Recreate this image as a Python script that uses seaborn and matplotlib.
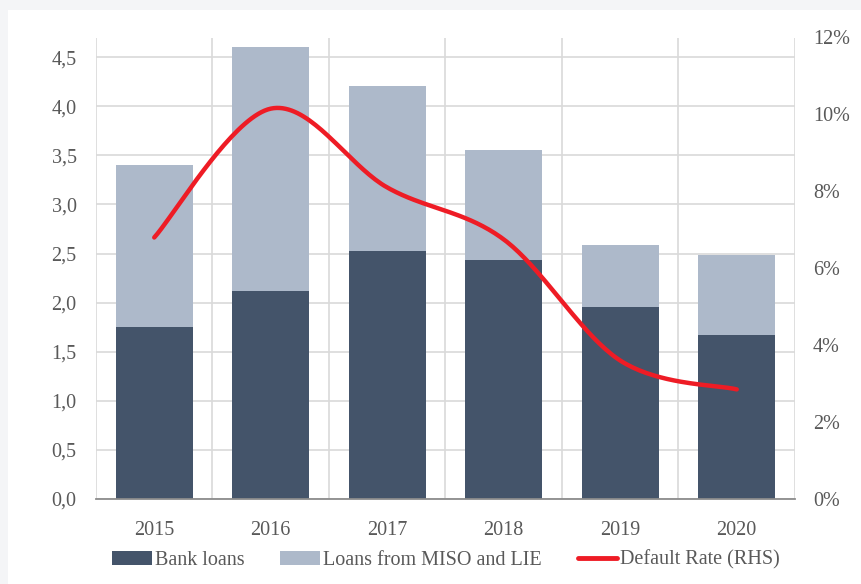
import numpy as np
import pandas as pd
import matplotlib
matplotlib.use("Agg")
import matplotlib.pyplot as plt
from matplotlib.patches import Rectangle, Patch
from matplotlib.lines import Line2D
from matplotlib.ticker import FuncFormatter, MultipleLocator
import seaborn as sns

# Data
years = ["2015", "2016", "2017", "2018", "2019", "2020"]
bank_loans = [1.75, 2.12, 2.53, 2.43, 1.96, 1.67]
miso_lie_loans = [1.65, 2.48, 1.68, 1.12, 0.63, 0.81]
default_rate = [6.8, 10.15, 8.1, 6.75, 3.6, 2.85]  # percent

DARK = "#44546A"
LIGHT = "#ADB9CA"
RED = "#EE1C25"
GRID = "#D9D9D9"
TEXT = "#595959"

sns.set_theme(style="white")
plt.rcParams["font.family"] = ["Liberation Serif", "DejaVu Serif"]
plt.rcParams["font.size"] = 14.5

df = pd.DataFrame({"year": years, "bank": bank_loans, "miso": miso_lie_loans})
df["total"] = df["bank"] + df["miso"]

fig = plt.figure(figsize=(8.62, 5.84), dpi=100, facecolor="#F4F5F7")
fig.patches.append(Rectangle((8 / 862, 0), 1, 1 - 10 / 584, transform=fig.transFigure,
                             facecolor="white", edgecolor="none", zorder=-10))
ax = fig.add_axes([96 / 862, 85 / 584, (795 - 96) / 862, (499 - 37.5) / 584])
ax.set_facecolor("none")

sns.barplot(data=df, x="year", y="total", color=LIGHT, width=0.66, saturation=1,
            linewidth=0, ax=ax, zorder=2)
sns.barplot(data=df, x="year", y="bank", color=DARK, width=0.66, saturation=1,
            linewidth=0, ax=ax, zorder=3)

ax.set_xlim(-0.5, len(years) - 0.5)
ax.set_ylim(0, 4.7)
ax.yaxis.set_major_locator(MultipleLocator(0.5))
ax.yaxis.set_major_formatter(FuncFormatter(lambda v, p: f"{v:.1f}".replace(".", ",")))
ax.set_xticks(np.arange(-0.5, len(years), 1.0), minor=True)
ax.grid(axis="y", which="major", color=GRID, linewidth=1.2, zorder=0)
ax.grid(axis="x", which="minor", color=GRID, linewidth=1.2, zorder=0)
ax.grid(axis="x", which="major", visible=False)
ax.set_axisbelow(True)
ax.set_xlabel("")
ax.set_ylabel("")
ax.tick_params(axis="both", which="both", length=0, colors=TEXT, labelsize=14.5)
ax.tick_params(axis="x", pad=16)
ax.tick_params(axis="y", pad=14)
for s in ["left", "right", "top"]:
    ax.spines[s].set_visible(False)
ax.spines["bottom"].set_color("#8C8C8C")
ax.spines["bottom"].set_linewidth(1.3)
ax.spines["bottom"].set_zorder(5)

# Default rate on the secondary axis, drawn as a smoothed curve through the yearly points
ax2 = ax.twinx()
xs = np.arange(len(years), dtype=float)
ys = np.array(default_rate, dtype=float)
px = np.concatenate([[xs[0]], xs, [xs[-1]]])
py = np.concatenate([[ys[0]], ys, [ys[-1]]])
cx, cy = [], []
t = np.linspace(0, 1, 40)
for i in range(1, len(px) - 2):
    p0, p1, p2, p3 = (np.array([px[j], py[j]]) for j in range(i - 1, i + 3))
    c1 = p1 + (p2 - p0) / 6
    c2 = p2 - (p3 - p1) / 6
    b = ((1 - t) ** 3)[:, None] * p1 + (3 * (1 - t) ** 2 * t)[:, None] * c1 \
        + (3 * (1 - t) * t ** 2)[:, None] * c2 + (t ** 3)[:, None] * p2
    cx.extend(b[:, 0])
    cy.extend(b[:, 1])
curve = pd.DataFrame({"x": cx, "y": cy})
sns.lineplot(data=curve, x="x", y="y", sort=False, color=RED, linewidth=3.2,
             ax=ax2, solid_capstyle="round", zorder=6)
ax2.set_xlim(-0.5, len(years) - 0.5)
ax2.set_ylim(0, 12)
ax2.yaxis.set_major_locator(MultipleLocator(2))
ax2.yaxis.set_major_formatter(FuncFormatter(lambda v, p: f"{v:.0f}%"))
ax2.set_ylabel("")
ax2.tick_params(axis="y", length=0, colors=TEXT, labelsize=14.5, pad=13)
for s in ["left", "right", "top", "bottom"]:
    ax2.spines[s].set_visible(False)

handles = [Patch(facecolor=DARK, edgecolor="none"),
           Patch(facecolor=LIGHT, edgecolor="none"),
           Line2D([0], [0], color=RED, linewidth=3.5, solid_capstyle="round")]
labels = ["Bank loans", "Loans from MISO and LIE", "Default Rate (RHS)"]
leg = fig.legend(handles, labels, loc="center", bbox_to_anchor=(446 / 862, 1 - 560 / 584),
                 ncol=3, frameon=False, fontsize=14.5, handlelength=1.95, handleheight=0.7,
                 handletextpad=0.15, columnspacing=1.8, labelcolor=TEXT)

fig.savefig("out.png", dpi=100, facecolor=fig.get_facecolor())
